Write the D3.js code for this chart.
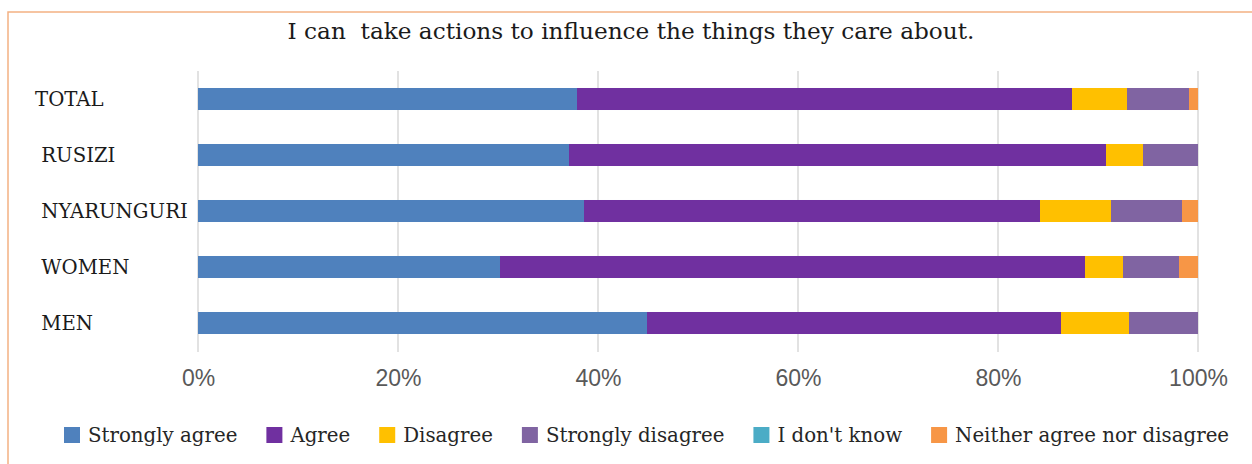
<!DOCTYPE html>
<html>
<head>
<meta charset="utf-8">
<script src="https://cdn.jsdelivr.net/npm/d3@7"></script>
<style>
  html, body { margin: 0; padding: 0; background: #fff; }
  svg { display: block; }
</style>
</head>
<body>
<svg id="chart" width="1252" height="464"></svg>
<script>
// Response categories, top to bottom
const categories = ["TOTAL", " RUSIZI", " NYARUNGURI", " WOMEN", " MEN"];

// Share of answers (%) per category, one array per response
const stronglyAgree    = [37.9, 37.1, 38.6, 30.2, 44.9];
const agree            = [49.5, 53.7, 45.6, 58.5, 41.4];
const disagree         = [5.5, 3.7, 7.1, 3.8, 6.8];
const stronglyDisagree = [6.2, 5.5, 7.1, 5.6, 6.9];
const dontKnow         = [0, 0, 0, 0, 0];
const neither          = [0.9, 0, 1.6, 1.9, 0];

const seriesNames = ["Strongly agree", "Agree", "Disagree", "Strongly disagree", "I don't know", "Neither agree nor disagree"];
const seriesValues = [stronglyAgree, agree, disagree, stronglyDisagree, dontKnow, neither];
const seriesColors = ["#4f81bd", "#7030a0", "#ffc000", "#8064a2", "#4bacc6", "#f79646"];

const tickValues = [0, 20, 40, 60, 80, 100];
const titleText = "I can  take actions to influence the things they care about.";

const serif = "'DejaVu Serif', serif";
const sans = "'Liberation Sans', Arial, sans-serif";

const svg = d3.select("#chart");

// Chart frame (left and top edges visible)
svg.append("rect")
  .attr("x", 8).attr("y", 12)
  .attr("width", 1270).attr("height", 480)
  .attr("fill", "#fff")
  .attr("stroke", "#f4b183")
  .attr("stroke-width", 1.5);

// Title
svg.append("text")
  .attr("x", 631).attr("y", 30)
  .attr("text-anchor", "middle")
  .attr("dominant-baseline", "central")
  .style("font-family", serif)
  .style("font-size", "23.2px")
  .style("fill", "#1a1a1a")
  .style("white-space", "pre")
  .text(titleText);

const x = d3.scaleLinear().domain([0, 100]).range([198, 1198]);
const y = d3.scaleBand().domain(categories).range([71, 351])
  .paddingInner(0.607).paddingOuter(0.3035);

// Gridlines
svg.append("g")
  .selectAll("line")
  .data(tickValues)
  .join("line")
  .attr("x1", d => x(d)).attr("x2", d => x(d))
  .attr("y1", 71).attr("y2", 352)
  .attr("stroke", "#d9d9d9")
  .attr("stroke-width", 1.5);

// Bottom axis labels
const xAxis = d3.axisBottom(x).tickValues(tickValues).tickSize(0).tickPadding(0)
  .tickFormat(d => d + "%");
const gx = svg.append("g").attr("transform", "translate(0,370)").call(xAxis);
gx.select(".domain").remove();
gx.selectAll("text")
  .attr("dy", "0.71em")
  .style("font-family", sans)
  .style("font-size", "23px")
  .style("fill", "#595959");

// Category labels
svg.append("g")
  .selectAll("text")
  .data(categories)
  .join("text")
  .attr("x", 35)
  .attr("y", d => y(d) + y.bandwidth() / 2)
  .attr("dominant-baseline", "central")
  .style("font-family", serif)
  .style("font-size", "19.7px")
  .style("fill", "#1a1a1a")
  .style("white-space", "pre")
  .text(d => d);

// Stacked bars
const rows = categories.map((c, i) => {
  const r = { category: c };
  seriesNames.forEach((s, j) => { r[s] = seriesValues[j][i]; });
  return r;
});
const stack = d3.stack().keys(seriesNames)(rows);
const color = d3.scaleOrdinal().domain(seriesNames).range(seriesColors);

svg.append("g")
  .selectAll("g")
  .data(stack)
  .join("g")
  .attr("fill", d => color(d.key))
  .selectAll("rect")
  .data(d => d)
  .join("rect")
  .attr("x", d => x(d[0]))
  .attr("y", d => y(d.data.category))
  .attr("width", d => x(d[1]) - x(d[0]))
  .attr("height", y.bandwidth());

// Legend
const legend = svg.append("g").attr("transform", "translate(64,435)");
let lx = 0;
seriesNames.forEach((name, i) => {
  const item = legend.append("g").attr("transform", `translate(${lx},0)`);
  item.append("rect")
    .attr("x", 0).attr("y", -8)
    .attr("width", 16).attr("height", 16)
    .attr("fill", seriesColors[i]);
  const t = item.append("text")
    .attr("x", 24).attr("y", 0)
    .attr("dominant-baseline", "central")
    .style("font-family", serif)
    .style("font-size", "19.8px")
    .style("fill", "#262626")
    .text(name);
  lx += 24 + t.node().getComputedTextLength() + 29;
});
</script>
</body>
</html>
